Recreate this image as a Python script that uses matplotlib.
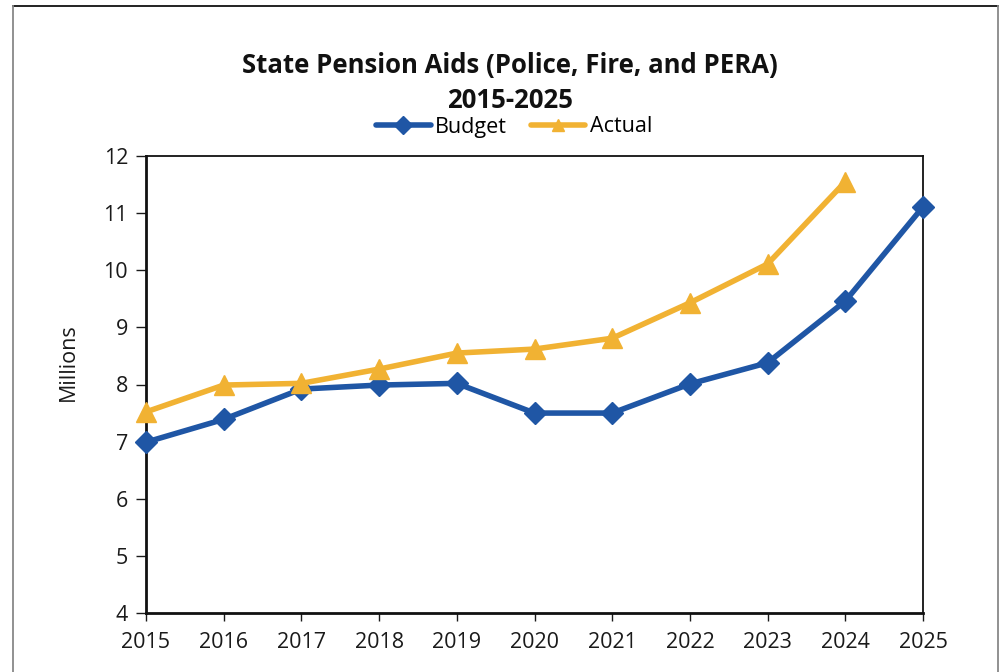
import matplotlib
matplotlib.use("Agg")
import matplotlib.pyplot as plt
from matplotlib.lines import Line2D

plt.rcParams['font.family'] = ['Open Sans', 'DejaVu Sans']

years = [2015, 2016, 2017, 2018, 2019, 2020, 2021, 2022, 2023, 2024, 2025]
budget = [6.99, 7.39, 7.92, 7.99, 8.02, 7.50, 7.50, 8.01, 8.38, 9.46, 11.11]
actual_years = [2015, 2016, 2017, 2018, 2019, 2020, 2021, 2022, 2023, 2024]
actual = [7.52, 7.99, 8.02, 8.27, 8.55, 8.62, 8.81, 9.43, 10.11, 11.55]
yticks = [4, 5, 6, 7, 8, 9, 10, 11, 12]

BLUE = '#1F56A5'
GOLD = '#F1B233'

fig = plt.figure(figsize=(9.99, 6.72), dpi=100)
W, H = 999, 672

# outer frame
fig.add_artist(Line2D([13 / W, 998 / W], [1 - 6 / H, 1 - 6 / H], color='#111111', lw=1.3, transform=fig.transFigure))
fig.add_artist(Line2D([13 / W, 13 / W], [0, 1 - 6 / H], color='#888888', lw=1.3, transform=fig.transFigure))
fig.add_artist(Line2D([997.5 / W, 997.5 / W], [0, 1 - 6 / H], color='#888888', lw=1.3, transform=fig.transFigure))

ax = fig.add_axes([146 / W, 1 - 613 / H, (923 - 146) / W, (613 - 156) / H])

lb, = ax.plot(years, budget, color=BLUE, lw=4, marker='D', ms=11.5, mfc=BLUE, mec=BLUE,
              solid_capstyle='round', solid_joinstyle='round', label='Budget', zorder=3, clip_on=False)
la, = ax.plot(actual_years, actual, color=GOLD, lw=4, marker='^', ms=15, mfc=GOLD, mec=GOLD,
              solid_capstyle='round', solid_joinstyle='round', label='Actual', zorder=4, clip_on=False)

ax.set_xlim(2015, 2025)
ax.set_ylim(4, 12)
ax.set_xticks(years)
ax.set_yticks(yticks)
ax.tick_params(axis='both', direction='out', labelsize=15.5, colors='#1a1a1a', width=1, length=7, pad=6)
ax.tick_params(axis='x', length=6, pad=8)
for s in ['left', 'bottom']:
    ax.spines[s].set_linewidth(2)
for s in ['top', 'right']:
    ax.spines[s].set_linewidth(1.3)
for s in ax.spines.values():
    s.set_color('#111111')

ax.set_ylabel('Millions', fontsize=15.5, color='#1a1a1a')
ax.yaxis.set_label_coords((68 - 146) / (923 - 146), (613 - 362) / (613 - 156))
ax.yaxis.label.set_va('center')

fig.text(510 / W, 1 - 66 / H, 'State Pension Aids (Police, Fire, and PERA)', ha='center', va='center',
         fontsize=18.5, fontweight='bold', color='#111111')
fig.text(510 / W, 1 - 100 / H, '2015-2025', ha='center', va='center',
         fontsize=18.5, fontweight='bold', color='#111111')

leg = fig.legend(handles=[lb, la], labels=['Budget', 'Actual'], loc='center', bbox_to_anchor=(514 / W, 1 - 127 / H),
                 ncol=2, frameon=False, fontsize=15.5, handlelength=2.55, handletextpad=0.2, columnspacing=1.1,
                 borderpad=0, borderaxespad=0)
for h in leg.legend_handles:
    h.set_markersize(9)
    h.set_linewidth(4)

fig.savefig('out.png', dpi=100)
